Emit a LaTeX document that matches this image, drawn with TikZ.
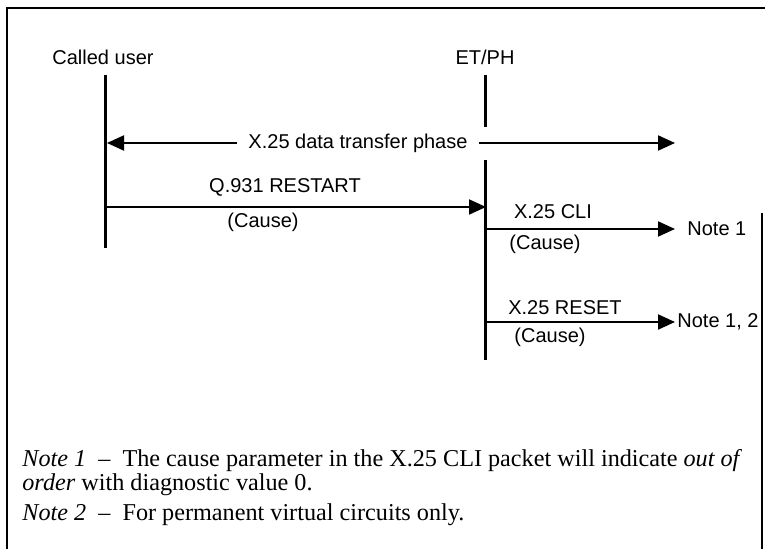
\documentclass[tikz,border=0pt]{standalone}
\usepackage{fontspec}
\setmainfont{Liberation Serif}
\setsansfont{Liberation Sans}
\usetikzlibrary{arrows.meta}
\tikzset{
	lbl/.style={font=\sffamily\fontsize{10}{12}\selectfont, inner sep=1pt},
	life/.style={line width=1.5pt},
	arr/.style={line width=1pt, -{Triangle[length=8.5pt, width=7.5pt]}},
	frame/.style={line width=0.8pt},
	note/.style={font=\fontsize{12.1}{12}\selectfont, inner sep=0pt, align=left}
}
\begin{document}
\begin{tikzpicture}[x=0.5pt, y=-0.5pt]
        \useasboundingbox (0,0) rectangle (765,549);
        \draw[frame] (7,549) -- (7,8) -- (765,8);
        \draw[frame] (762,213) -- (762,549);

        % entities
        \node[lbl] (cu) at (103,57) {Called user};
        \node[lbl] (et) at (485,57) {ET/PH};

        \coordinate (cuTop) at (105,75);
        \coordinate (cuBot) at (105,248);
        \coordinate (etTop) at (485,75);
        \coordinate (etGap) at (485,127);
        \coordinate (etMid) at (485,160);
        \coordinate (etBot) at (485,360);
        \draw[life] (cuTop) -- (cuBot);
        \draw[life] (etTop) -- (etGap);
        \draw[life] (etMid) -- (etBot);

        % phase
        \node[lbl, inner xsep=5.5pt] (phase) at (358,143) {X.25 data transfer phase};
        \coordinate (phL) at (107,143);
        \coordinate (phR) at (675,143);
        \draw[arr] (phase.west) -- (phL);
        \draw[arr] (phase.east) -- (phR);

        % messages
        \coordinate (q1) at (105,207);
        \coordinate (q2) at (486,207);
        \draw[arr] (q1) -- (q2);
        \node[lbl] (qlab) at (285,187) {Q.931 RESTART};
        \node[lbl] (qcause) at (263,222) {(Cause)};

        \coordinate (c1) at (485,229);
        \node[lbl, anchor=west, inner xsep=6pt] (n1) at (675,229) {Note 1};
        \draw[arr] (c1) -- (n1);
        \node[lbl] (clab) at (553,212) {X.25 CLI};
        \node[lbl] (ccause) at (545,244) {(Cause)};

        \coordinate (r1) at (485,322);
        \node[lbl, anchor=west, inner xsep=1pt] (n12) at (675,322) {Note 1, 2};
        \draw[arr] (r1) -- (n12);
        \node[lbl] (rlab) at (565,308) {X.25 RESET};
        \node[lbl] (rcause) at (550,337) {(Cause)};

        % notes
        \node[note, anchor=base west] (note1) at (22,467) {\textit{Note 1}\enspace\textendash\enspace The cause parameter in the X.25 CLI packet will indicate \textit{out of}};
        \node[note, anchor=base west] (note1b) at (22,491) {\textit{order} with diagnostic value 0.};
        \node[note, anchor=base west] (note2) at (22,521) {\textit{Note 2}\enspace\textendash\enspace For permanent virtual circuits only.};
\end{tikzpicture}
\end{document}
